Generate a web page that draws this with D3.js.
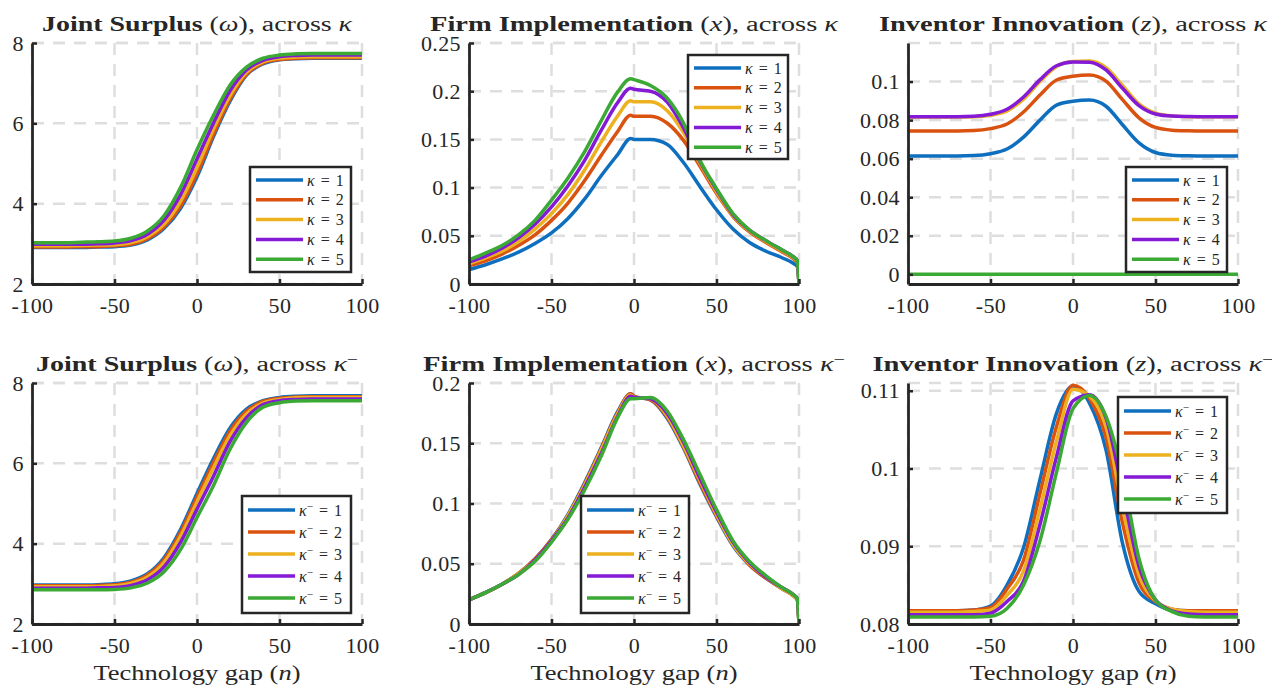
<!DOCTYPE html>
<html>
<head>
<meta charset="utf-8">
<script src="https://cdn.jsdelivr.net/npm/d3@7"></script>
<style>
    body { margin: 0; background: #fff; }
    svg text { font-family: "Liberation Serif", "DejaVu Serif", serif; fill: #262626; }
</style>
</head>
<body>
<div id="chart"></div>
<script>
// technology gap grids
const nGrid = [-100, -90, -80, -70, -60, -50, -40, -30, -20, -10, 0, 10, 20, 30, 40, 50, 60, 70, 80, 90, 100];
const nGridFirm = [-100, -90, -80, -70, -60, -50, -40, -30, -20, -10, -2, 0, 10, 20, 30, 40, 50, 60, 70, 80, 90, 96, 99, 100];
const xTicks = [-100, -50, 0, 50, 100];
const kappaLevels = [1, 2, 3, 4, 5];
const colors = ["#0F6FBF", "#DA5210", "#EDB120", "#8419D6", "#3BAA35"];

// Joint surplus, across kappa (one row per kappa)
const surplusKappa = [
    [2.91, 2.91, 2.91, 2.91, 2.92, 2.93, 2.97, 3.10, 3.38, 3.88, 4.67, 5.67, 6.55, 7.20, 7.48, 7.58, 7.61, 7.62, 7.62, 7.62, 7.62],
    [2.92, 2.92, 2.92, 2.93, 2.93, 2.95, 2.99, 3.13, 3.42, 3.94, 4.75, 5.73, 6.60, 7.22, 7.50, 7.59, 7.62, 7.63, 7.63, 7.63, 7.63],
    [2.95, 2.95, 2.95, 2.96, 2.97, 2.98, 3.03, 3.18, 3.49, 4.06, 4.90, 5.86, 6.69, 7.27, 7.53, 7.62, 7.65, 7.66, 7.66, 7.66, 7.66],
    [2.99, 2.99, 2.99, 2.99, 3.00, 3.02, 3.08, 3.24, 3.59, 4.22, 5.11, 6.01, 6.81, 7.33, 7.57, 7.66, 7.69, 7.70, 7.70, 7.70, 7.70],
    [3.03, 3.03, 3.03, 3.04, 3.05, 3.07, 3.14, 3.32, 3.70, 4.40, 5.34, 6.20, 6.95, 7.40, 7.62, 7.70, 7.73, 7.74, 7.74, 7.74, 7.74]
];
const surplusTicks = [2, 4, 6, 8];

// Firm implementation, across kappa
const firmKappa = [
    [0.015, 0.020, 0.026, 0.033, 0.042, 0.053, 0.068, 0.088, 0.112, 0.134, 0.151, 0.150, 0.150, 0.145, 0.126, 0.101, 0.077, 0.057, 0.043, 0.034, 0.027, 0.022, 0.018, 0],
    [0.019, 0.024, 0.031, 0.040, 0.051, 0.066, 0.084, 0.107, 0.133, 0.158, 0.175, 0.174, 0.174, 0.167, 0.149, 0.122, 0.094, 0.070, 0.054, 0.043, 0.033, 0.027, 0.022, 0],
    [0.021, 0.027, 0.034, 0.044, 0.057, 0.073, 0.093, 0.118, 0.147, 0.174, 0.190, 0.189, 0.189, 0.180, 0.157, 0.125, 0.096, 0.071, 0.055, 0.044, 0.034, 0.028, 0.023, 0],
    [0.023, 0.029, 0.037, 0.048, 0.062, 0.080, 0.102, 0.128, 0.159, 0.188, 0.203, 0.202, 0.200, 0.189, 0.162, 0.127, 0.098, 0.072, 0.056, 0.045, 0.035, 0.029, 0.024, 0],
    [0.025, 0.032, 0.040, 0.051, 0.066, 0.087, 0.110, 0.137, 0.169, 0.199, 0.213, 0.212, 0.206, 0.193, 0.167, 0.128, 0.099, 0.073, 0.056, 0.045, 0.035, 0.029, 0.024, 0]
];
const firmKappaTicks = [0, 0.05, 0.1, 0.15, 0.2, 0.25];

// Inventor innovation, across kappa
const innovKappa = [
    [0.0614, 0.0614, 0.0614, 0.0614, 0.0616, 0.0626, 0.0650, 0.0712, 0.0800, 0.0878, 0.0898, 0.0904, 0.0872, 0.0776, 0.0682, 0.0632, 0.0618, 0.0615, 0.0614, 0.0614, 0.0614],
    [0.0744, 0.0744, 0.0744, 0.0744, 0.0746, 0.0756, 0.0780, 0.0842, 0.0930, 0.1008, 0.1028, 0.1034, 0.1002, 0.0906, 0.0812, 0.0762, 0.0748, 0.0745, 0.0744, 0.0744, 0.0744],
    [0.0816, 0.0816, 0.0816, 0.0816, 0.0817, 0.0825, 0.0848, 0.0908, 0.1000, 0.1078, 0.1104, 0.1106, 0.1072, 0.0980, 0.0884, 0.0836, 0.0822, 0.0818, 0.0817, 0.0817, 0.0817],
    [0.0818, 0.0818, 0.0818, 0.0818, 0.0820, 0.0830, 0.0856, 0.0920, 0.1010, 0.1082, 0.1102, 0.1100, 0.1060, 0.0965, 0.0875, 0.0832, 0.0821, 0.0819, 0.0818, 0.0818, 0.0818],
    [0, 0, 0, 0, 0, 0, 0, 0, 0, 0, 0, 0, 0, 0, 0, 0, 0, 0, 0, 0, 0]
];
const innovKappaTicks = [0, 0.02, 0.04, 0.06, 0.08, 0.1];

// Joint surplus, across kappa minus
const surplusKappaMinus = [
    [2.97, 2.97, 2.97, 2.97, 2.98, 3.00, 3.07, 3.25, 3.65, 4.35, 5.25, 6.12, 6.88, 7.35, 7.56, 7.64, 7.67, 7.68, 7.68, 7.68, 7.68],
    [2.95, 2.95, 2.95, 2.95, 2.96, 2.98, 3.04, 3.22, 3.60, 4.28, 5.16, 6.02, 6.80, 7.30, 7.54, 7.62, 7.65, 7.66, 7.66, 7.66, 7.66],
    [2.93, 2.93, 2.93, 2.93, 2.93, 2.95, 3.01, 3.17, 3.53, 4.18, 5.04, 5.89, 6.69, 7.23, 7.50, 7.59, 7.63, 7.64, 7.64, 7.64, 7.64],
    [2.89, 2.89, 2.89, 2.89, 2.90, 2.91, 2.96, 3.10, 3.42, 4.03, 4.86, 5.68, 6.54, 7.14, 7.46, 7.56, 7.59, 7.60, 7.60, 7.60, 7.60],
    [2.85, 2.85, 2.85, 2.85, 2.85, 2.86, 2.90, 3.02, 3.30, 3.85, 4.65, 5.45, 6.35, 7.02, 7.40, 7.51, 7.55, 7.56, 7.56, 7.56, 7.56]
];

// Firm implementation, across kappa minus
const firmKappaMinus = [
    [0.020, 0.026, 0.033, 0.042, 0.054, 0.070, 0.091, 0.117, 0.146, 0.176, 0.191, 0.189, 0.186, 0.171, 0.146, 0.116, 0.089, 0.065, 0.049, 0.038, 0.029, 0.024, 0.020, 0],
    [0.020, 0.026, 0.033, 0.042, 0.054, 0.070, 0.090, 0.116, 0.145, 0.175, 0.191, 0.189, 0.186, 0.172, 0.147, 0.117, 0.090, 0.066, 0.049, 0.038, 0.029, 0.024, 0.020, 0],
    [0.020, 0.026, 0.033, 0.042, 0.053, 0.069, 0.090, 0.115, 0.144, 0.174, 0.190, 0.188, 0.187, 0.173, 0.148, 0.119, 0.091, 0.066, 0.050, 0.039, 0.029, 0.024, 0.020, 0],
    [0.020, 0.026, 0.033, 0.041, 0.053, 0.069, 0.088, 0.113, 0.141, 0.172, 0.189, 0.188, 0.187, 0.175, 0.151, 0.121, 0.093, 0.068, 0.051, 0.039, 0.030, 0.025, 0.021, 0],
    [0.020, 0.026, 0.033, 0.041, 0.052, 0.068, 0.087, 0.111, 0.139, 0.171, 0.187, 0.187, 0.188, 0.177, 0.153, 0.124, 0.095, 0.069, 0.052, 0.040, 0.030, 0.025, 0.021, 0]
];
const firmKappaMinusTicks = [0, 0.05, 0.1, 0.15, 0.2];

// Inventor innovation, across kappa minus
const innovKappaMinus = [
    [0.0817, 0.0817, 0.0817, 0.0817, 0.0818, 0.0823, 0.0850, 0.0898, 0.0986, 0.1071, 0.1106, 0.1084, 0.1024, 0.0904, 0.0842, 0.0826, 0.0818, 0.0817, 0.0817, 0.0817, 0.0817],
    [0.0817, 0.0817, 0.0817, 0.0817, 0.0818, 0.0821, 0.0845, 0.0882, 0.0968, 0.1054, 0.1107, 0.1090, 0.1040, 0.0930, 0.0853, 0.0829, 0.0819, 0.0817, 0.0817, 0.0817, 0.0817],
    [0.0815, 0.0815, 0.0815, 0.0815, 0.0816, 0.0818, 0.0837, 0.0868, 0.0948, 0.1035, 0.1102, 0.1093, 0.1054, 0.0950, 0.0863, 0.0830, 0.0819, 0.0816, 0.0815, 0.0815, 0.0815],
    [0.0812, 0.0812, 0.0812, 0.0812, 0.0812, 0.0814, 0.0829, 0.0855, 0.0928, 0.1015, 0.1087, 0.1095, 0.1065, 0.0971, 0.0874, 0.0831, 0.0817, 0.0813, 0.0812, 0.0812, 0.0812],
    [0.0809, 0.0809, 0.0809, 0.0809, 0.0809, 0.0810, 0.0820, 0.0850, 0.0907, 0.0995, 0.1077, 0.1094, 0.1067, 0.0992, 0.0884, 0.0831, 0.0816, 0.0810, 0.0809, 0.0809, 0.0809]
];
const innovKappaMinusTicks = [0.08, 0.09, 0.1, 0.11];

const panels = [
    {title: "Joint Surplus", sym: "ω", minus: false, xs: nGrid, series: surplusKappa, yDomain: [2, 8], yTicks: surplusTicks,
        left: 32, top: 43, titleW: 310, legend: {x: 218, y: 124, w: 101, h: 105}},
    {title: "Firm Implementation", sym: "x", minus: false, xs: nGridFirm, series: firmKappa, yDomain: [0, 0.25], yTicks: firmKappaTicks,
        left: 469, top: 43, titleW: 408, legend: {x: 219, y: 12, w: 100, h: 104}},
    {title: "Inventor Innovation", sym: "z", minus: false, xs: nGrid, series: innovKappa, yDomain: [-0.005, 0.12], yTicks: innovKappaTicks,
        left: 908, top: 43, titleW: 388, legend: {x: 218, y: 124, w: 101, h: 105}},
    {title: "Joint Surplus", sym: "ω", minus: true, xs: nGrid, series: surplusKappaMinus, yDomain: [2, 8], yTicks: surplusTicks,
        left: 32, top: 383, titleW: 322, legend: {x: 210, y: 113, w: 109, h: 117}, xLabel: true},
    {title: "Firm Implementation", sym: "x", minus: true, xs: nGridFirm, series: firmKappaMinus, yDomain: [0, 0.2], yTicks: firmKappaMinusTicks,
        left: 469, top: 383, titleW: 422, legend: {x: 112, y: 113, w: 108, h: 117}, xLabel: true},
    {title: "Inventor Innovation", sym: "z", minus: true, xs: nGrid, series: innovKappaMinus, yDomain: [0.08, 0.111], yTicks: innovKappaMinusTicks,
        left: 908, top: 383, titleW: 401, legend: {x: 210, y: 14, w: 109, h: 116}, xLabel: true}
];

const W = 330, H = 241;
const axisColor = "#262626";
const serif = '"Liberation Serif", "DejaVu Serif", serif';
const wideSerif = '"DejaVu Serif", "Liberation Serif", serif';

const svg = d3.select("#chart").append("svg")
    .attr("width", 1272)
    .attr("height", 688)
    .style("font-family", serif);

function addKappa(sel, minus, big) {
    sel.append("tspan").attr("font-style", "italic").text("κ");
    if (minus) {
        sel.append("tspan").attr("baseline-shift", "super").attr("font-size", big ? 14 : 11).text("−");
    }
}

panels.forEach(function (p, i) {
    let g = svg.append("g").attr("transform", `translate(${p.left},${p.top})`);

    let x = d3.scaleLinear().domain([-100, 100]).range([0, W]);
    let y = d3.scaleLinear().domain(p.yDomain).range([H, 0]);

    // dashed grid
    g.append("g").selectAll("line").data(xTicks).join("line")
        .attr("x1", d => x(d)).attr("x2", d => x(d))
        .attr("y1", 0).attr("y2", H)
        .attr("stroke", "#dedede").attr("stroke-width", 2.5).attr("stroke-dasharray", "12,9");
    g.append("g").selectAll("line").data(p.yTicks).join("line")
        .attr("x1", 0).attr("x2", W)
        .attr("y1", d => y(d)).attr("y2", d => y(d))
        .attr("stroke", "#dedede").attr("stroke-width", 2.5).attr("stroke-dasharray", "12,9");
    g.append("line").attr("x1", 0).attr("x2", W).attr("y1", 0).attr("y2", 0)
        .attr("stroke", "#dedede").attr("stroke-width", 2.5).attr("stroke-dasharray", "12,9");

    // curves
    g.append("clipPath").attr("id", "clip" + i)
        .append("rect").attr("width", W).attr("height", H);

    let line = d3.line()
        .x((d, j) => x(p.xs[j]))
        .y(d => y(d))
        .curve(d3.curveMonotoneX);

    g.append("g").attr("clip-path", `url(#clip${i})`)
        .selectAll("path").data(p.series).join("path")
        .attr("d", line)
        .attr("fill", "none")
        .attr("stroke", (d, k) => colors[k])
        .attr("stroke-width", 3.5)
        .attr("stroke-linejoin", "round");

    // axes
    let xAxis = d3.axisBottom(x).tickValues(xTicks).tickFormat(d => String(d))
        .tickSizeInner(-5).tickSizeOuter(0).tickPadding(13);
    let yAxis = d3.axisLeft(y).tickValues(p.yTicks).tickFormat(d => String(+d.toFixed(3)))
        .tickSizeInner(-5).tickSizeOuter(0).tickPadding(8);

    let gx = g.append("g").attr("transform", `translate(0,${H})`).call(xAxis);
    let gy = g.append("g").call(yAxis);
    [gx, gy].forEach(function (ax) {
        ax.attr("font-family", serif).attr("font-size", 22);
        ax.select(".domain").attr("stroke", axisColor).attr("stroke-width", 2.8);
        ax.selectAll(".tick line").attr("stroke", axisColor).attr("stroke-width", 2.5);
        ax.selectAll(".tick text").attr("fill", axisColor).style("letter-spacing", "0.4px");
    });

    // title
    let t = g.append("text")
        .attr("x", W / 2).attr("y", -12)
        .attr("text-anchor", "middle")
        .attr("font-family", wideSerif)
        .attr("font-size", 20)
        .attr("textLength", p.titleW)
        .attr("lengthAdjust", "spacingAndGlyphs");
    t.append("tspan").attr("font-weight", "bold").text(p.title);
    t.append("tspan").text(" (");
    t.append("tspan").attr("font-style", "italic").text(p.sym);
    t.append("tspan").text("), across ");
    addKappa(t, p.minus, true);

    // x label
    if (p.xLabel) {
        let xl = g.append("text")
            .attr("x", W / 2).attr("y", H + 56)
            .attr("text-anchor", "middle")
            .attr("font-family", wideSerif)
            .attr("font-size", 21)
            .attr("textLength", 207)
            .attr("lengthAdjust", "spacingAndGlyphs");
        xl.append("tspan").text("Technology gap (");
        xl.append("tspan").attr("font-style", "italic").text("n");
        xl.append("tspan").text(")");
    }

    // legend
    let L = p.legend;
    let lg = g.append("g").attr("transform", `translate(${L.x},${L.y})`);
    lg.append("clipPath").attr("id", "lclip" + i)
        .append("rect").attr("width", L.w).attr("height", L.h);
    lg.append("rect").attr("width", L.w).attr("height", L.h).attr("fill", "#fff");
    let rowGap = p.minus ? 22 : 19.8;
    let row0 = p.minus ? 14 : 13;
    let rows = lg.append("g").attr("clip-path", `url(#lclip${i})`)
        .selectAll("g").data(kappaLevels).join("g")
        .attr("transform", (d, k) => `translate(0,${row0 + k * rowGap})`);
    rows.append("line")
        .attr("x1", 6).attr("x2", 53)
        .attr("stroke", (d, k) => colors[k])
        .attr("stroke-width", 3.5);
    rows.each(function (d) {
        let tx = d3.select(this).append("text")
            .attr("x", 57).attr("dy", "0.35em")
            .attr("font-size", 16);
        addKappa(tx, p.minus, false);
        tx.append("tspan").attr("dx", 6).text("=");
        tx.append("tspan").attr("dx", 6).text(d);
    });
    lg.append("rect").attr("width", L.w).attr("height", L.h)
        .attr("fill", "none").attr("stroke", axisColor).attr("stroke-width", 2.5);
});
</script>
</body>
</html>
